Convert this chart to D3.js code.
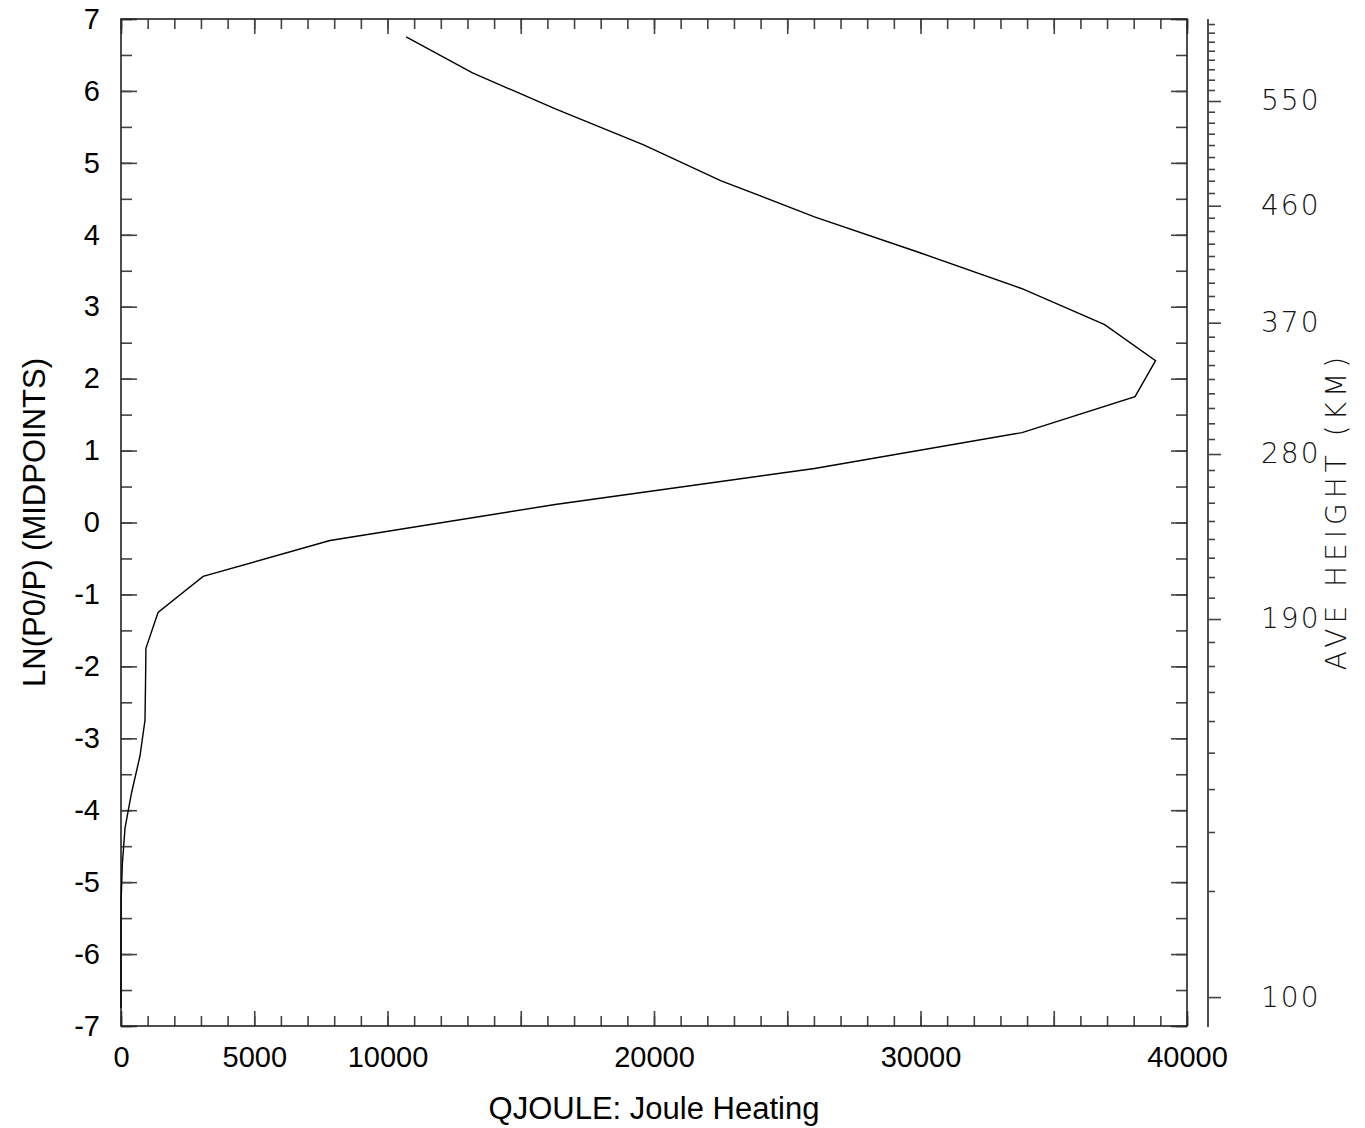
<!DOCTYPE html>
<html>
<head>
<meta charset="utf-8">
<script src="https://cdn.jsdelivr.net/npm/d3@7"></script>
<style>
  html, body { margin: 0; padding: 0; background: #fff; }
  svg { display: block; }
</style>
</head>
<body>
<svg id="chart" width="1365" height="1128"></svg>
<script>
// ---- data ----
const lnLevels = [-6.75, -6.25, -5.75, -5.25, -4.75, -4.25, -3.75, -3.25, -2.75, -2.25,
                  -1.75, -1.25, -0.75, -0.25, 0.25, 0.75, 1.25, 1.75, 2.25, 2.75,
                  3.25, 3.75, 4.25, 4.75, 5.25, 5.75, 6.25, 6.75];
const qjoule = [0, 0, 0, 5, 50, 150, 400, 710, 900, 920,
                935, 1390, 3080, 7840, 16290, 26020, 33810, 38050, 38820, 36910,
                33810, 29980, 26020, 22520, 19610, 16300, 13190, 10700];

const xTickLabels = [0, 5000, 10000, 20000, 30000, 40000];
const yTickLabels = [-7, -6, -5, -4, -3, -2, -1, 0, 1, 2, 3, 4, 5, 6, 7];

// average height (km) at every 10 km, with the LN(P0/P) level where it falls
const heightTicks = [100, 110, 120, 130, 140, 150, 160, 170, 180, 190, 200, 210, 220, 230, 240,
                     250, 260, 270, 280, 290, 300, 310, 320, 330, 340, 350, 360, 370, 380, 390,
                     400, 410, 420, 430, 440, 450, 460, 470, 480, 490, 500, 510, 520, 530, 540,
                     550, 560, 570, 580, 590, 600, 610, 620, 630];
const heightLn = [-6.598, -5.123, -4.303, -3.706, -3.200, -2.760, -2.356, -1.995, -1.661, -1.342,
                  -1.045, -0.758, -0.489, -0.229, 0.021, 0.275, 0.498, 0.730, 0.952, 1.161,
                  1.379, 1.592, 1.796, 1.995, 2.189, 2.388, 2.583, 2.778, 2.964, 3.149,
                  3.334, 3.524, 3.705, 3.876, 4.053, 4.237, 4.404, 4.581, 4.752, 4.915,
                  5.081, 5.248, 5.405, 5.558, 5.711, 5.860, 6.013, 6.156, 6.301, 6.434,
                  6.559, 6.684, 6.810, 6.930];
const heightLabels = [100, 190, 280, 370, 460, 550];

// ---- layout ----
const L = 121, R = 1187, T = 19, B = 1026, RAX = 1208;
const svg = d3.select("#chart");

const x = d3.scaleLinear().domain([0, 40000]).range([L, R]);
const y = d3.scaleLinear().domain([-7, 7]).range([B, T]);
const hScale = d3.scaleLinear().domain(heightTicks).range(heightLn.map(v => y(v)));

const font = "'Liberation Sans', Arial, sans-serif";
const thinFont = "'DejaVu Sans', sans-serif";
const tickColor = "#444";
const minorX = d3.range(0, 40001, 1000);
const minorY = d3.range(-7, 7.001, 0.5);

function style(g) {
  g.select(".domain").remove();
  g.selectAll(".tick line").attr("stroke", tickColor).attr("stroke-width", 1.6);
  g.selectAll(".tick text").attr("fill", "#000").style("font-family", font).style("font-size", "29px");
}

// bottom: minor + major (labelled)
svg.append("g").attr("transform", `translate(0,${B})`)
  .call(d3.axisBottom(x).tickValues(minorX).tickSizeInner(-10).tickSizeOuter(0).tickFormat(""))
  .call(style);
svg.append("g").attr("transform", `translate(0,${B})`)
  .call(d3.axisBottom(x).tickValues(d3.range(0, 40001, 5000)).tickSizeInner(-15).tickSizeOuter(0)
    .tickPadding(20).tickFormat(d => xTickLabels.includes(d) ? d : ""))
  .call(style);
// top
svg.append("g").attr("transform", `translate(0,${T})`)
  .call(d3.axisTop(x).tickValues(minorX).tickSizeInner(-10).tickSizeOuter(0).tickFormat(""))
  .call(style);
svg.append("g").attr("transform", `translate(0,${T})`)
  .call(d3.axisTop(x).tickValues(d3.range(0, 40001, 5000)).tickSizeInner(-15).tickSizeOuter(0).tickFormat(""))
  .call(style);
// left
svg.append("g").attr("transform", `translate(${L},0)`)
  .call(d3.axisLeft(y).tickValues(minorY).tickSizeInner(-11).tickSizeOuter(0).tickFormat(""))
  .call(style);
svg.append("g").attr("transform", `translate(${L},0)`)
  .call(d3.axisLeft(y).tickValues(yTickLabels).tickSizeInner(-16).tickSizeOuter(0).tickPadding(21)
    .tickFormat(d => d))
  .call(style);
// right edge of frame
svg.append("g").attr("transform", `translate(${R},0)`)
  .call(d3.axisRight(y).tickValues(minorY).tickSizeInner(-11).tickSizeOuter(0).tickFormat(""))
  .call(style);
svg.append("g").attr("transform", `translate(${R},0)`)
  .call(d3.axisRight(y).tickValues(yTickLabels).tickSizeInner(-16).tickSizeOuter(0).tickFormat(""))
  .call(style);

// frame
svg.append("rect").attr("x", L).attr("y", T).attr("width", R - L).attr("height", B - T)
  .attr("fill", "none").attr("stroke", "#222").attr("stroke-width", 1.6);

// right height axis
const hAxis = svg.append("g").attr("transform", `translate(${RAX},0)`);
hAxis.append("line").attr("x1", 0).attr("x2", 0).attr("y1", T).attr("y2", B + 1)
  .attr("stroke", "#222").attr("stroke-width", 1.6);
hAxis.call(g => g.append("g")
  .call(d3.axisRight(hScale).tickValues(heightTicks.filter(h => !heightLabels.includes(h)))
    .tickSizeInner(7).tickSizeOuter(0).tickFormat(""))
  .call(style));
hAxis.call(g => g.append("g")
  .call(d3.axisRight(hScale).tickValues(heightLabels).tickSizeInner(13).tickSizeOuter(0)
    .tickPadding(40).tickFormat(d => d))
  .call(style)
  .call(gg => gg.selectAll(".tick text")
    .style("font-family", thinFont).style("font-weight", 200)
    .style("letter-spacing", "2px")
    .style("font-size", "28px").attr("fill", "#111")));

// curve
const line = d3.line().x(d => x(d[1])).y(d => y(d[0]));
svg.append("path")
  .datum(lnLevels.map((l, i) => [l, qjoule[i]]))
  .attr("d", line).attr("fill", "none").attr("stroke", "#000").attr("stroke-width", 1.4);

// titles
svg.append("text").attr("x", 654).attr("y", 1119).attr("text-anchor", "middle")
  .style("font-family", font).style("font-size", "31px").text("QJOULE: Joule Heating");
svg.append("text").attr("transform", `translate(45,${(T + B) / 2}) rotate(-90)`)
  .attr("text-anchor", "middle")
  .style("font-family", font).style("font-size", "31px").text("LN(P0/P) (MIDPOINTS)");
svg.append("text").attr("transform", `translate(1346,511) rotate(-90)`)
  .attr("text-anchor", "middle").attr("fill", "#111")
  .style("font-family", thinFont).style("font-weight", 200)
  .style("letter-spacing", "5px")
  .style("font-size", "28px").text("AVE HEIGHT (KM)");
</script>
</body>
</html>
